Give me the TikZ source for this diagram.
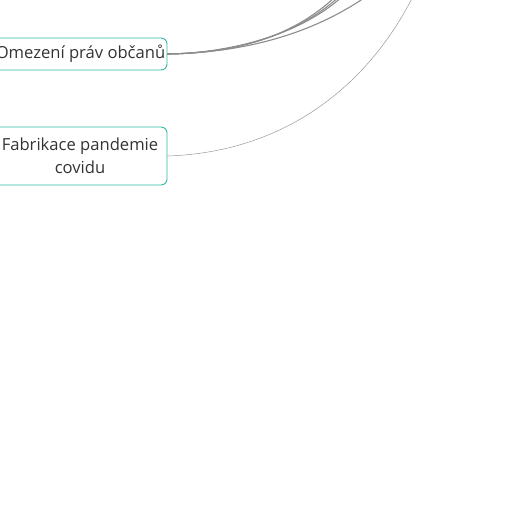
\documentclass[tikz,border=0pt]{standalone}
\usepackage{fontspec}
\setmainfont{Open Sans}
\definecolor{boxcol}{HTML}{2FB8A2}
\definecolor{txtcol}{HTML}{333333}
\begin{document}
\begin{tikzpicture}[x=1pt,y=-1pt,
  topic/.style={draw=boxcol, line width=0.9pt, rounded corners=6pt, text=txtcol,
    font=\fontsize{16.6}{23}\selectfont, align=center, inner sep=0pt},
  thick link/.style={draw=gray!90, line width=1.1pt},
  thin link/.style={draw=gray!80, line width=0.5pt}]
\useasboundingbox (0,0) rectangle (512,512);
\clip (0,0) rectangle (512,512);
\node[topic, minimum width=173pt, minimum height=32pt] (n1) at (80.5,54) {Omezení práv občanů};
\node[topic, minimum width=174pt, minimum height=58pt] (n2) at (80,156) {Fabrikace pandemie\\covidu};
\coordinate (a1) at (344,-12);
\coordinate (a2) at (348,-12);
\coordinate (a3) at (351,-12);
\coordinate (a4) at (378,-12);
\coordinate (b1) at (419,-16);
\draw[thick link] (n1.east) .. controls (240,53) and (300,35) .. (a1);
\draw[thick link] (n1.east) .. controls (240,53) and (305,33) .. (a2);
\draw[thick link] (n1.east) .. controls (235,53) and (310,32) .. (a3);
\draw[thick link] (n1.east) .. controls (230,53) and (310,40) .. (a4);
\draw[thin link] (n2.east) .. controls (290,152) and (375,80) .. (b1);
\end{tikzpicture}
\end{document}
